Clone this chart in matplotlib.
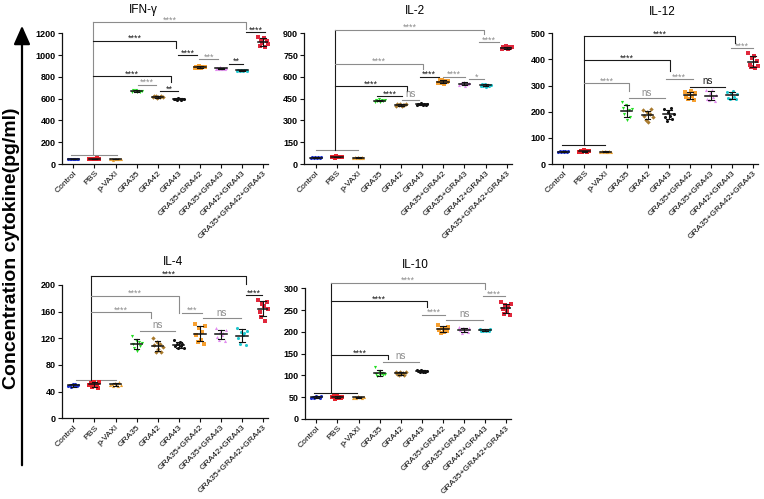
import numpy as np
import matplotlib
matplotlib.use('Agg')
from matplotlib import pyplot as plt
from matplotlib.patches import FancyArrowPatch

plt.rcParams['font.family'] = ['Liberation Sans', 'DejaVu Sans']

groups = ['Control', 'PBS', 'p-VAXI', 'GRA35', 'GRA42', 'GRA43',
          'GRA35+GRA42', 'GRA35+GRA43', 'GRA42+GRA43', 'GRA35+GRA42+GRA43']
colors = ['#1a2fd0', '#e8212b', '#e9a030', '#22dd22', '#a8792c', '#111111',
          '#f7a030', '#e28cf0', '#20c8d0', '#e0283c']
markers = ['o', 's', '^', 'v', 'D', 'o', 's', '^', 'o', 's']

# cytokine values (pg/ml), one list per group
ifng = [[44, 47, 42, 49, 45, 46, 43, 48],
        [48, 45, 50, 43, 47, 52, 44, 46],
        [44, 46, 41, 47, 45, 43, 48, 42],
        [662, 675, 668, 680, 660, 671, 665, 673],
        [612, 620, 625, 608, 618, 615, 622, 611],
        [595, 600, 590, 603, 597, 592, 598, 601],
        [880, 895, 885, 900, 878, 890, 887, 892],
        [872, 885, 870, 890, 876, 880, 868, 882],
        [855, 866, 858, 862, 852, 864, 860, 857],
        [1170, 1085, 1140, 1110, 1160, 1075, 1125, 1105]]

il2 = [[43, 46, 41, 48, 44, 45, 42, 47],
       [47, 50, 44, 52, 46, 48, 45, 49],
       [43, 45, 41, 46, 44, 42, 47, 44],
       [430, 440, 435, 445, 428, 438, 433, 441],
       [400, 410, 405, 415, 398, 408, 403, 412],
       [405, 415, 410, 418, 406, 412, 408, 414],
       [555, 575, 560, 580, 550, 570, 565, 573],
       [545, 560, 550, 565, 540, 555, 552, 558],
       [535, 548, 540, 552, 530, 545, 538, 546],
       [795, 808, 800, 812, 790, 804, 798, 805]]

il12 = [[46, 49, 45, 50, 47, 48, 44, 49],
        [47, 50, 44, 52, 48, 46, 49, 50],
        [46, 48, 45, 49, 47, 46, 48, 47],
        [236, 215, 190, 225, 168, 205, 180, 212],
        [205, 185, 170, 198, 162, 192, 209, 180],
        [212, 178, 165, 200, 185, 215, 172, 193],
        [275, 255, 248, 268, 279, 260, 245, 270],
        [282, 250, 245, 270, 285, 258, 241, 265],
        [276, 252, 250, 270, 278, 258, 248, 268],
        [425, 380, 370, 405, 412, 366, 395, 375]]

il4 = [[48, 50, 47, 51, 49, 52, 48, 50],
       [50, 53, 47, 55, 49, 52, 46, 54],
       [50, 52, 48, 53, 51, 49, 54, 50],
       [124, 112, 105, 118, 101, 115, 108, 113],
       [121, 110, 99, 115, 104, 112, 100, 107],
       [117, 108, 112, 105, 114, 109, 111, 106],
       [142, 125, 114, 135, 118, 130, 112, 138],
       [135, 122, 118, 130, 125, 128, 116, 132],
       [136, 120, 112, 130, 125, 128, 110, 131],
       [178, 160, 152, 172, 168, 146, 175, 164]]

il10 = [[49, 51, 48, 52, 50, 51, 49, 53],
        [50, 52, 47, 53, 49, 51, 48, 50],
        [49, 51, 48, 52, 50, 50, 49, 51],
        [120, 104, 99, 110, 101, 106, 100, 103],
        [109, 104, 100, 107, 103, 106, 101, 108],
        [113, 110, 107, 112, 109, 111, 108, 110],
        [215, 205, 197, 210, 200, 208, 202, 212],
        [212, 204, 198, 208, 201, 206, 200, 210],
        [207, 203, 201, 205, 202, 204, 201, 206],
        [268, 252, 240, 262, 248, 258, 239, 265]]

titles = ['IFN-γ', 'IL-2', 'IL-12', 'IL-4', 'IL-10']
data_sets = [ifng, il2, il12, il4, il10]
ymax = [1200, 900, 500, 200, 300]
ystep = [200, 150, 100, 40, 50]

# significance brackets: base bar, stem x, links from stem, adjacent pairs
G, K = '#8c8c8c', '#1a1a1a'
bases = [(-0.1, 2.05, 80, G), (0, 2.0, 94, G), (-0.08, 1.98, 73, K),
         (0.11, 2.0, 57.5, G), (-0.11, 1.91, 60.5, K)]
stems = [(0.95, G), (0.91, K), (0.97, K), (0.85, K), (0.71, K)]
links = [[(1301, 8.17, 1239, G), (1132, 4.85, 1062, K), (805, 4.63, 756, K)],
         [(925, 7.94, 895, G), (691, 5.06, 654, G), (535, 4.31, 503, K)],
         [(488, 8.14, 462, K), (398, 5.07, 356, K), (309, 3.11, 279, G)],
         [(213, 8.2, 202, K), (184, 5.01, 158, G), (159, 3.68, 150, G)],
         [(313, 8.01, 298, G), (271, 5.23, 258, K), (146, 3.4, 138, K)]]
pairs = [[(8.17, 9.1, 1209, '****', K), (4.98, 5.85, 998, '****', K),
          (5.96, 6.87, 964, '***', G), (7.38, 8.03, 921, '**', K),
          (3.08, 3.9, 728, '****', G), (4.12, 4.95, 667, '**', K)],
         [(7.69, 8.65, 838, '****', G), (4.9, 5.79, 601, '****', K),
          (6.0, 7.01, 601, '****', G), (7.22, 7.94, 587, '*', G),
          (2.86, 4.07, 468, '****', K), (4.06, 4.87, 443, 'ns', G)],
         [(7.95, 8.98, 443, '****', G), (4.85, 6.13, 324, '****', G),
          (6.0, 7.68, 295, 'ns', K), (3.11, 4.82, 251, 'ns', G)],
         [(8.18, 8.96, 184.5, '****', K), (5.14, 6.09, 158.5, '***', G),
          (6.16, 7.93, 150, 'ns', G), (3.16, 4.82, 131, 'ns', G)],
         [(7.9, 8.96, 282, '****', G), (5.01, 6.09, 239.5, '****', G),
          (6.13, 7.9, 227, 'ns', G), (3.16, 4.87, 131, 'ns', G)]]

W, H = 764, 499
# pixel anchors: first tick x, tick step, y of zero, y of top tick
anchors = [(73.3, 21.1, 164, 33.3), (316, 21.2, 164, 33.3), (563.3, 21.1, 164, 33.3),
           (73.3, 21.1, 418.3, 285), (316.3, 21.1, 419, 288.3)]
title_pos = [(143, 10.5), (415, 10.7), (662, 11.7), (173, 262), (415, 265)]

fig = plt.figure(figsize=(W / 100, H / 100), dpi=100)
offsets = np.linspace(-0.24, 0.24, 8)


def label(ax, x, y, text, color):
    size = 7 if text == 'ns' else 6.5
    dy = 0.5 if text == 'ns' else -1.8
    ax.annotate(text, (x, y), xytext=(0, dy), textcoords='offset points',
                ha='center', va='bottom', fontsize=size, color=color,
                annotation_clip=False)


for p in range(5):
    x0, step, y0, ytop = anchors[p]
    left = x0 - 0.55 * step
    ax = fig.add_axes([left / W, (H - y0) / H, 9.8 * step / W, (y0 - ytop) / H])
    vals = data_sets[p]
    for i, v in enumerate(vals):
        v = np.array(v, dtype=float)
        ax.scatter(i + offsets, v, s=5, marker=markers[i], color=colors[i],
                   linewidths=0, zorder=2, clip_on=False)
        m, sd = v.mean(), v.std(ddof=1)
        ax.plot([i - 0.27, i + 0.27], [m, m], color='#111111', lw=1.1, zorder=3)
        ax.plot([i, i], [m - sd, m + sd], color='#111111', lw=0.8, zorder=3)
        for e in (m - sd, m + sd):
            ax.plot([i - 0.13, i + 0.13], [e, e], color='#111111', lw=0.8, zorder=3)

    kw = dict(lw=0.8, clip_on=False, zorder=1)
    bx1, bx2, by, bc = bases[p]
    ax.plot([bx1, bx2], [by, by], color=bc, **kw)
    sx, sc = stems[p]
    ax.plot([sx, sx], [by, links[p][0][0]], color=sc, **kw)
    for ly, lx, lyd, lc in links[p]:
        ax.plot([sx, lx, lx], [ly, ly, lyd], color=lc, **kw)
        label(ax, (sx + lx) / 2, ly, '****', lc)
    for x1, x2, py, txt, pc in pairs[p]:
        ax.plot([x1, x2], [py, py], color=pc, **kw)
        label(ax, (x1 + x2) / 2, py, txt, pc)

    ax.set_xlim(-0.55, 9.25)
    ax.set_ylim(0, ymax[p])
    ax.set_yticks(np.arange(0, ymax[p] + 1, ystep[p]))
    ax.set_xticks(range(len(groups)))
    ax.set_xticklabels(groups, rotation=45, ha='right', rotation_mode='anchor',
                       fontsize=6.1)
    for t in ax.get_yticklabels():
        t.set_fontweight('bold')
        t.set_fontsize(6.5)
    ax.tick_params(length=3, width=0.8, pad=1.5, color='#111111')
    ax.tick_params(axis='x', pad=1)
    for s in ['top', 'right']:
        ax.spines[s].set_visible(False)
    for s in ['left', 'bottom']:
        ax.spines[s].set_linewidth(0.9)
        ax.spines[s].set_color('#111111')
    ax.patch.set_alpha(0)
    tx, ty = title_pos[p]
    fig.text(tx / W, 1 - ty / H, titles[p], ha='center', va='center', fontsize=8.5)

arrow = FancyArrowPatch((22 / W, 1 - 468 / H), (22 / W, 1 - 23 / H),
                        transform=fig.transFigure, arrowstyle='-|>,head_length=4.5,head_width=2',
                        lw=1.6, color='black', mutation_scale=2.5)
fig.add_artist(arrow)
fig.text(12 / W, 1 - 248 / H, 'Concentration cytokine(pg/ml)', rotation=90,
         ha='center', va='center', fontsize=14, fontweight='bold')

fig.savefig('out.png', dpi=100)
